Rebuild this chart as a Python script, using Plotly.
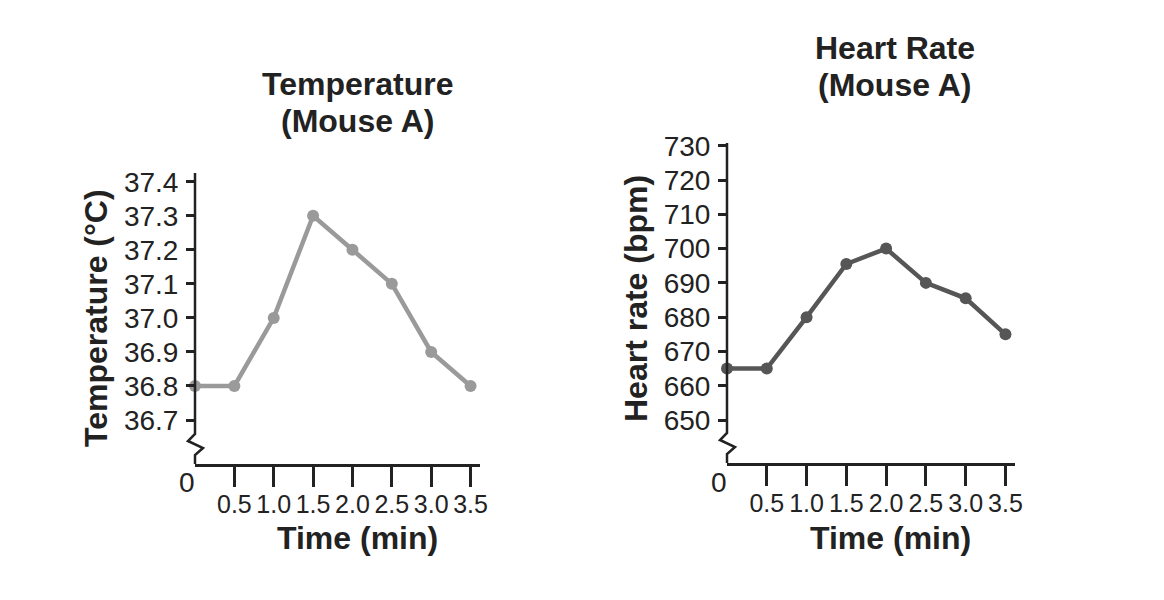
import plotly.graph_objects as go

W, H = 1164, 600

time_min = [0, 0.5, 1.0, 1.5, 2.0, 2.5, 3.0, 3.5]
temperature_c = [36.8, 36.8, 37.0, 37.3, 37.2, 37.1, 36.9, 36.8]
heart_rate_bpm = [665, 665, 680, 695.5, 700, 690, 685.5, 675]

x_tick_vals = [0.5, 1.0, 1.5, 2.0, 2.5, 3.0, 3.5]
x_tick_text = ["0.5", "1.0", "1.5", "2.0", "2.5", "3.0", "3.5"]
temp_tick_vals = [36.7, 36.8, 36.9, 37.0, 37.1, 37.2, 37.3, 37.4]
temp_tick_text = ["36.7", "36.8", "36.9", "37.0", "37.1", "37.2", "37.3", "37.4"]
hr_tick_vals = [650, 660, 670, 680, 690, 700, 710, 720, 730]
hr_tick_text = [str(v) for v in hr_tick_vals]

FONT = "Liberation Sans, Arial, Helvetica, sans-serif"
AX = "#222222"
TXT = "#222222"


def fx(p):
    return p / W


def fy(p):
    return 1 - p / H


# pixel layout of the two panels
L = dict(x0=195, x1=480, ytop=173, ybot=464)
R = dict(x0=727, x1=1015, ytop=143, ybot=463)

fig = go.Figure()

fig.add_trace(go.Scatter(
    x=time_min, y=temperature_c, mode="lines+markers",
    line=dict(color="#9a9a9a", width=4.5),
    marker=dict(color="#9a9a9a", size=12),
    cliponaxis=False, xaxis="x", yaxis="y", showlegend=False,
))
fig.add_trace(go.Scatter(
    x=time_min, y=heart_rate_bpm, mode="lines+markers",
    line=dict(color="#565656", width=4.5),
    marker=dict(color="#565656", size=12),
    cliponaxis=False, xaxis="x2", yaxis="y2", showlegend=False,
))

tickfont = dict(family=FONT, size=28, color=TXT)
xtickfont = dict(family=FONT, size=25, color=TXT)

xcommon = dict(
    range=[0, 3.62], showgrid=False, zeroline=False, showline=True,
    linecolor=AX, linewidth=2.5, ticks="outside", ticklen=20, tickwidth=2.5,
    tickcolor=AX, tickvals=x_tick_vals, ticktext=x_tick_text, tickfont=xtickfont,
    tickangle=0, ticklabelstandoff=-4, automargin=False,
)
ycommon = dict(
    showgrid=False, zeroline=False, showline=False, ticks="outside",
    ticklen=8, tickwidth=2.5, tickcolor=AX, tickfont=tickfont,
    ticklabelstandoff=2, automargin=False,
)

fig.update_layout(
    width=W, height=H,
    margin=dict(l=0, r=0, t=0, b=0, autoexpand=False),
    paper_bgcolor="white", plot_bgcolor="white",
    font=dict(family=FONT, color=TXT),
    xaxis=dict(domain=[fx(L["x0"]), fx(L["x1"])], anchor="y", **xcommon),
    yaxis=dict(domain=[fy(L["ybot"]), fy(L["ytop"])], anchor="x",
               range=[36.5708, 37.4256], tickvals=temp_tick_vals,
               ticktext=temp_tick_text, **ycommon),
    xaxis2=dict(domain=[fx(R["x0"]), fx(R["x1"])], anchor="y2", **xcommon),
    yaxis2=dict(domain=[fy(R["ybot"]), fy(R["ytop"])], anchor="x2",
                range=[637.46, 730.8], tickvals=hr_tick_vals,
                ticktext=hr_tick_text, **ycommon),
)


def axis_with_break(p):
    a, b, t = p["x0"], p["ybot"], p["ytop"]
    pts = [(a, t), (a, b - 30), (a - 7, b - 23), (a + 8, b - 16), (a, b - 9), (a, b)]
    path = "M " + " L ".join(f"{fx(x):.5f},{fy(y):.5f}" for x, y in pts)
    return dict(type="path", path=path, xref="paper", yref="paper",
                line=dict(color=AX, width=2.5), layer="above")


fig.add_shape(**axis_with_break(L))
fig.add_shape(**axis_with_break(R))

title_font = dict(family=FONT, size=32, color=TXT, weight="bold")
anns = [
    dict(text="Temperature", x=fx(357.5), y=fy(84)),
    dict(text="(Mouse A)", x=fx(357.5), y=fy(121)),
    dict(text="Heart Rate", x=fx(894.5), y=fy(48.5)),
    dict(text="(Mouse A)", x=fx(894.5), y=fy(85)),
    dict(text="Time (min)", x=fx(357), y=fy(538)),
    dict(text="Time (min)", x=fx(891), y=fy(538)),
    dict(text="Temperature (°C)", x=fx(96), y=fy(318), textangle=-90),
    dict(text="Heart rate (bpm)", x=fx(636), y=fy(298), textangle=-90),
]
for a in anns:
    fig.add_annotation(xref="paper", yref="paper", showarrow=False,
                       xanchor="center", yanchor="middle", font=title_font, **a)

for p in (L, R):
    fig.add_annotation(xref="paper", yref="paper", showarrow=False,
                       x=fx(p["x0"] - 8), y=fy(482), text="0",
                       xanchor="center", yanchor="middle", font=tickfont)

post = (
    "document.body.style.margin='0';"
    "document.body.style.overflow='hidden';"
)
fig.write_html("out.html", config={"displayModeBar": False},
               post_script=post)
